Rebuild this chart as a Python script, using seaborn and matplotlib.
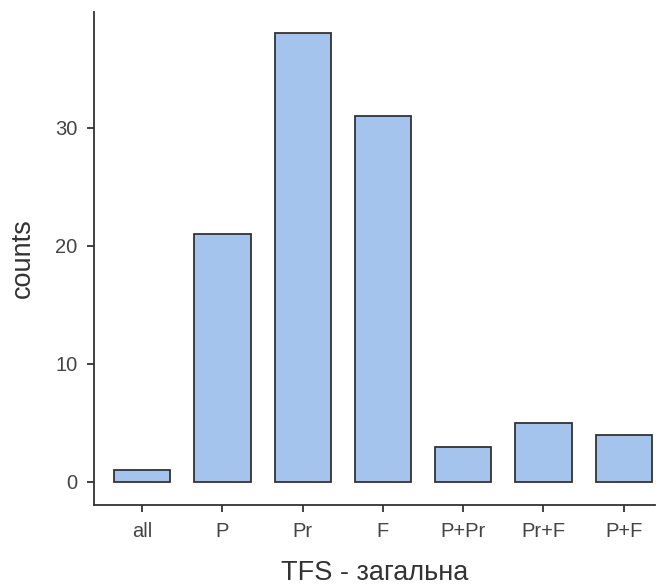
import matplotlib
matplotlib.use("Agg")
import matplotlib.pyplot as plt
import seaborn as sns
import pandas as pd

categories = ["all", "P", "Pr", "F", "P+Pr", "Pr+F", "P+F"]
counts = [1, 21, 38, 31, 3, 5, 4]

sns.set_style("ticks")
plt.rcParams['font.family'] = ['Liberation Sans', 'DejaVu Sans']

df = pd.DataFrame({"cat": categories, "counts": counts})

fig = plt.figure(figsize=(6.63, 5.88), dpi=100)
ax = fig.add_axes([94/663, 1-505/588, (655-94)/663, (505-12)/588])
sns.barplot(data=df, x="cat", y="counts", order=categories, color="#a4c4ee",
            saturation=1, width=0.7, edgecolor="#333333", linewidth=1.3, ax=ax)
ax.set_xlim(-0.6, 6.39)
ax.set_ylim(-1.95, 39.8)
ax.set_yticks([0, 10, 20, 30])
for s in ["top", "right"]:
    ax.spines[s].set_visible(False)
for s in ["left", "bottom"]:
    ax.spines[s].set_color("#333333")
    ax.spines[s].set_linewidth(1.3)
ax.tick_params(axis="both", colors="#333333", labelcolor="#444444", labelsize=14.5,
               length=5, width=1.3, pad=7)
ax.set_xlabel("TFS - загальна", fontsize=19.5, color="#333333", labelpad=14)
ax.set_ylabel("counts", fontsize=19.5, color="#333333", labelpad=14)
fig.savefig("out.png", dpi=100)
